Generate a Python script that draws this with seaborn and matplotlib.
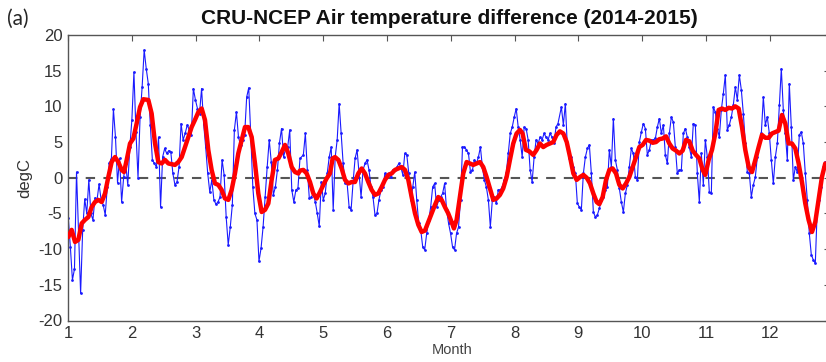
import numpy as np
import pandas as pd
import matplotlib
matplotlib.use('Agg')
import matplotlib.pyplot as plt
import seaborn as sns

# === daily CRU-NCEP difference (degC) in three stretches ===
seg1_months = (1.005, 4.636)
seg1_degc = [-5.7, -9.7, -14.3, -12.8, 0.8, -7.5, -16.2, -7.3, -3.0, -5.0, -0.3, -5.0, -5.9, -2.8,
             -3.1, -0.9, -3.1, -3.8, -5.2, -1.3, 2.1, 2.6, 9.6, 5.7, -0.7, 2.7, -3.4, 0.1, 2.0, -1.0,
             4.3, 8.1, 14.8, 6.4, 0.0, 8.5, 12.7, 17.9, 15.3, 13.2, 7.4, 2.5, 2.0, 1.5, 5.7, -4.1,
             2.9, 4.1, 3.4, 3.8, 3.6, 0.6, -1.0, -0.6, 1.5, 7.6, 5.3, 6.2, 7.4, 6.7, 6.0, 12.5, 10.9,
             9.7, 9.0, 12.5, 7.6, 4.3, 0.6, -2.0, -0.3, -3.1, -3.7, -3.4, -2.7, 2.5, 0.4, -5.5, -9.4,
             -6.9, -3.8, 6.7, 9.2, 5.7, 4.6, 5.3, 6.0, 11.3, 12.6, 6.0, -1.3, -5.0, -5.9, -11.7,
             -9.9, -6.9, -2.7, 1.5, 5.3, 2.2, -2.4, -1.3, 1.1, 4.9, 6.9, 2.9, 4.1, 4.3, 6.7, -1.7,
             -3.4, -1.7, -1.5, 2.7]

seg2_months = (4.689, 8.680)
seg2_degc = [3.2, 6.2, 1.1, -2.9, -2.7, -2.2, -3.4, -5.0, -6.8, -0.6, -3.1, -2.2, 0.6, 2.9, 4.3,
             -4.5, 2.9, 5.3, 10.4, 6.2, 2.0, -0.8, -0.8, -4.1, -4.5, -0.6, 2.7, 3.9, 0.6, -2.7, 1.1,
             2.0, 2.5, 1.1, -1.3, -2.7, -5.2, -5.0, -3.1, -1.7, -1.3, 0.6, 0.1, 0.6, 0.1, 1.1, 1.1,
             1.5, 2.0, 1.5, 0.4, 3.4, 3.2, 0.6, -3.1, -1.3, 0.8, -3.1, -6.4, -7.3, -9.7, -10.1, -7.8,
             -5.9, -4.1, -1.3, -0.8, -4.1, -3.1, -2.7, -2.2, -0.8, -4.5, -6.4, -7.8, -9.7, -10.1,
             -7.8, -6.9, -3.1, 4.3, 4.3, 3.9, 3.4, 0.8, 1.1, 2.5, 2.0, 2.9, 4.3, 1.5, -0.3, -1.3,
             -3.1, -6.9, -3.1, -2.7, -3.6, -1.7, -1.7, -1.3, -0.3, 0.6, 3.4, 6.2, 7.1, 8.5, 9.7, 7.1,
             5.3, 2.9, 7.1, 6.9, 5.3, 1.1, -0.6, 2.9, 5.3, 4.8, 5.7, 5.3, 6.2, 5.7, 5.3, 6.2, 5.7,
             4.8, 7.1, 7.6]

seg3_months = (8.733, 12.870)
seg3_degc = [9.9, 7.4, 10.4, 4.3, 2.7, 2.9, 1.5, 0.6, -3.6, -4.1, -4.5, 0.6, 2.9, 4.1, 4.6, 0.6,
             -4.8, -5.5, -5.2, -4.3, -3.1, -2.7, -1.7, -1.3, 3.9, 1.5, 8.3, 2.5, 1.1, -1.5, -3.4,
             -4.8, -2.2, -1.0, 1.5, 4.1, 3.4, 0.1, -0.3, 5.0, 6.4, 7.6, 6.9, 3.2, 3.9, 5.3, 5.3,
             5.5, 7.1, 8.3, 6.2, 7.4, 3.2, 2.0, 6.2, 8.5, 7.8, 4.3, 0.6, 1.1, 1.1, 6.2, 6.9, 5.7,
             4.3, 2.9, 7.6, 7.4, 0.6, -3.4, 3.4, -1.0, 5.3, 2.9, -2.0, -2.2, 9.9, 9.2, 6.9, 5.7, 9.5,
             11.8, 14.4, 6.7, 7.4, 8.5, 10.2, 12.7, 10.9, 14.4, 12.3, 9.0, 4.8, 0.8, 0.6, -2.7, -1.0,
             0.1, 2.9, 4.8, 6.2, 11.3, 7.4, 8.5, 6.2, 2.5, -0.8, 2.9, 4.8, 10.2, 15.3, 9.5, 6.2, 2.5,
             13.2, 7.1, -0.3, 1.5, 0.8, 6.0, 6.4, 4.8, 0.6, -3.1, -7.8, -10.8, -11.5, -12.0, -4.1,
             -3.1, -1.3, 1.5, 2.2]

# === smoothed curve (red), month / degC ===
red_month = [1.005, 1.057, 1.110, 1.162, 1.214, 1.266, 1.319, 1.371, 1.423, 1.475, 1.528, 1.580,
             1.632, 1.684, 1.737, 1.789, 1.841, 1.878, 1.920, 1.972, 2.024, 2.076, 2.129, 2.181,
             2.259, 2.311, 2.364, 2.416, 2.468, 2.520, 2.573, 2.625, 2.677, 2.729, 2.782, 2.834,
             2.886, 2.938, 2.990, 3.043, 3.095, 3.147, 3.199, 3.251, 3.304, 3.356, 3.408, 3.460,
             3.513, 3.565, 3.617, 3.669, 3.722, 3.774, 3.826, 3.879, 3.931, 3.983, 4.035, 4.088,
             4.140, 4.192, 4.244, 4.297, 4.349, 4.401, 4.453, 4.506, 4.558, 4.610,
             4.636, 4.689, 4.741, 4.793, 4.845, 4.897, 4.950, 5.002, 5.054, 5.106, 5.148, 5.185,
             5.237, 5.289, 5.342, 5.394, 5.446, 5.498, 5.550, 5.603, 5.655, 5.707, 5.759, 5.812,
             5.864, 5.916, 5.968, 6.021, 6.073, 6.125, 6.177, 6.230, 6.282, 6.334, 6.386, 6.439,
             6.491, 6.543, 6.595, 6.647, 6.699, 6.752, 6.804, 6.856, 6.908, 6.960, 7.013, 7.049,
             7.091, 7.143, 7.195, 7.248, 7.300, 7.352, 7.405, 7.457, 7.509, 7.561, 7.613, 7.666,
             7.718, 7.770, 7.822, 7.875, 7.927, 7.979, 8.031, 8.084, 8.125, 8.177, 8.230, 8.292,
             8.345, 8.397, 8.449, 8.501, 8.554, 8.606, 8.658, 8.710,
             8.764, 8.817, 8.869, 8.921, 8.973, 9.025, 9.078, 9.130, 9.182, 9.234, 9.286, 9.328,
             9.380, 9.433, 9.485, 9.537, 9.589, 9.642, 9.694, 9.746, 9.798, 9.851, 9.903, 9.955,
             10.007, 10.060, 10.112, 10.164, 10.216, 10.268, 10.321, 10.373, 10.425, 10.477,
             10.530, 10.582, 10.634, 10.686, 10.739, 10.791, 10.843, 10.895, 10.948, 10.989,
             11.042, 11.094, 11.146, 11.198, 11.251, 11.303, 11.355, 11.407, 11.460, 11.512,
             11.564, 11.616, 11.669, 11.721, 11.773, 11.825, 11.877, 11.930, 11.982, 12.034,
             12.086, 12.138, 12.191, 12.243, 12.295, 12.347, 12.400, 12.452, 12.504, 12.556,
             12.608, 12.661, 12.713, 12.765, 12.817, 12.869]
red_degc = [-8.3, -7.3, -9.0, -8.7, -6.4, -5.9, -5.5, -4.1, -3.4, -3.1, -3.4, -2.2,
            0.1, 2.2, 2.9, 2.2, 1.1, 0.8, 2.5, 4.8, 5.5, 7.6, 9.9, 11.0,
            10.9, 9.0, 4.8, 2.2, 2.0, 2.5, 2.0, 1.9, 1.8, 2.2, 2.9, 4.3,
            5.7, 7.1, 8.1, 9.2, 9.7, 8.1, 3.9, 1.1, -0.8, -1.0, -1.7, -2.9,
            -3.1, -1.7, 0.6, 3.4, 5.3, 7.1, 7.1, 5.7, 2.0, -2.2, -4.8, -4.5,
            -3.6, -0.3, 2.5, 2.7, 3.6, 4.6, 3.4, 1.5, 0.8, 0.6,
            1.0, 1.1, 0.6, -0.6, -2.2, -2.9, -2.0, -1.0, -0.1, 0.6, 2.7, 2.9,
            2.5, 1.3, -0.3, -0.8, -0.6, -0.6, 0.6, 1.3, 0.6, -0.6, -1.7, -2.4,
            -2.2, -1.3, -0.3, 0.4, 0.6, 1.1, 1.3, 1.5, 1.1, -0.3, -2.7, -5.0,
            -6.6, -7.6, -7.4, -6.2, -5.0, -3.8, -2.7, -3.1, -4.1, -5.0, -6.2, -7.1,
            -5.9, -2.7, 0.6, 2.2, 2.0, 1.8, 2.0, 2.2, 1.5, 0.1, -1.5, -3.1,
            -2.9, -2.4, -1.5, 0.1, 2.5, 4.8, 6.2, 6.7, 6.2, 3.9, 3.7, 3.2,
            3.9, 4.8, 4.3, 4.6, 4.8, 5.0, 6.0, 6.5,
            6.2, 5.0, 2.9, 0.6, -0.3, 0.1, 0.4, 0.0, -0.8, -2.2, -3.4, -3.7,
            -2.7, -0.3, 1.1, 1.3, 0.6, -1.0, -1.5, -0.8, 0.1, 1.5, 2.9, 4.3,
            4.6, 5.3, 5.2, 4.9, 5.0, 5.4, 5.5, 5.8, 4.8, 4.1,
            3.8, 3.4, 3.8, 5.3, 5.1, 3.8, 3.2, 2.7, 1.1, 0.4,
            2.5, 3.9, 6.2, 9.5, 9.7, 9.5, 9.8, 9.7, 10.0, 9.7,
            7.1, 3.9, 1.5, 0.8, 2.5, 4.3, 6.0, 5.6, 5.6, 6.2,
            6.4, 6.6, 8.8, 7.6, 4.8, 4.8, 4.1, 2.0, -0.6, -3.6,
            -5.9, -7.6, -6.2, -3.1, 0.1, 2.0]

x_ticks = list(range(1, 13))
y_ticks = list(range(-20, 21, 5))

# === DataFrame ===
parts = []
for (m0, m1), vals in [(seg1_months, seg1_degc), (seg2_months, seg2_degc), (seg3_months, seg3_degc)]:
    parts.append(pd.DataFrame({'month': np.linspace(m0, m1, len(vals)), 'degC': vals}))
df_daily = pd.concat(parts, ignore_index=True)
df_smooth = pd.DataFrame({'month': red_month, 'degC': red_degc})

sns.set_style('white')
plt.rcParams['font.family'] = ['Liberation Sans', 'DejaVu Sans']
plt.rcParams['axes.unicode_minus'] = False

W, H = 826, 362
fig = plt.figure(figsize=(W / 100, H / 100), dpi=100)
left, right, top, bottom = 68, 830, 35, 320.5
ax = fig.add_axes([left / W, 1 - bottom / H, (right - left) / W, (bottom - top) / H])

ax.axhline(0, color='#555555', lw=1.5, ls=(0, (4.5, 4)), zorder=1)
sns.lineplot(data=df_daily, x='month', y='degC', ax=ax, color='#1a1aff', lw=0.8,
             marker='o', markersize=2, markeredgewidth=0, sort=False, estimator=None, zorder=2)
sns.lineplot(data=df_smooth, x='month', y='degC', ax=ax, color='#ff0000', lw=3.2,
             sort=False, estimator=None, zorder=3)

ax.set_xlim(1, 1 + (right - left) / 63.8)
ax.set_ylim(-20, 20)
ax.set_xticks(x_ticks)
ax.set_yticks(y_ticks)
ax.tick_params(direction='in', length=4.5, width=0.8, top=True, right=True,
               labelsize=12, labelcolor='#333333', color='#555555', pad=4)
for s in ax.spines.values():
    s.set_color('#555555')
    s.set_linewidth(1.0)
ax.set_xlabel('')
ax.set_ylabel('')
ax.set_title('CRU-NCEP Air temperature difference (2014-2015)', fontsize=15,
             fontweight='bold', pad=8, color='#111111')

fig.text(7 / W, 1 - 19 / H, '(a)', fontsize=15, va='center', ha='left', family=['Lato', 'DejaVu Sans'])
fig.text(25 / W, 1 - 178 / H, 'degC', rotation=90, fontsize=12, va='center', ha='center', color='#333333')
fig.text(452 / W, 1 - 350 / H, 'Month', fontsize=10.5, va='center', ha='center', color='#444444')

fig.savefig('out.png', dpi=100)
